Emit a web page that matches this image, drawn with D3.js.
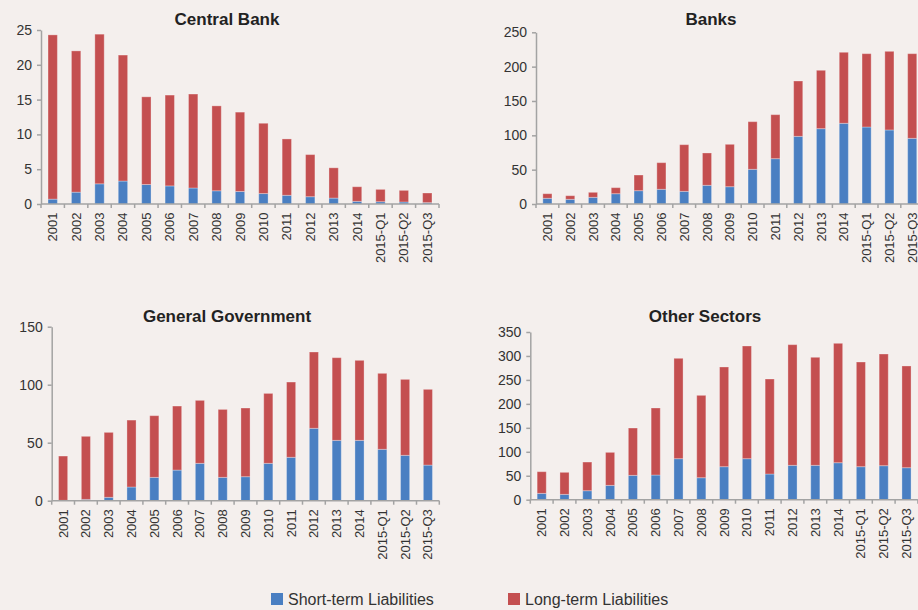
<!DOCTYPE html>
<html>
<head>
<meta charset="utf-8">
<script src="https://cdn.jsdelivr.net/npm/d3@7"></script>
<style>
  body { margin: 0; background: #f4efed; }
  svg { display: block; font-family: Arial, "Liberation Sans", sans-serif; }
  .axis path, .axis line { stroke: #a3a3a3; stroke-width: 1.5; }
</style>
</head>
<body>
<svg id="chart" width="918" height="610"></svg>
<script>
// categories shared by all four panels
var periods = ["2001","2002","2003","2004","2005","2006","2007","2008","2009","2010","2011","2012","2013","2014","2015-Q1","2015-Q2","2015-Q3"];

// Central Bank: short-term and long-term
var cbShort = [0.7, 1.7, 2.9, 3.3, 2.8, 2.6, 2.3, 1.9, 1.8, 1.5, 1.25, 1.05, 0.85, 0.38, 0.33, 0.29, 0.2];
var cbLong  = [23.6, 20.3, 21.5, 18.1, 12.6, 13.05, 13.5, 12.2, 11.4, 10.1, 8.1, 6.05, 4.35, 2.1, 1.77, 1.67, 1.38];

// Banks
var bankShort = [8.3, 6.8, 9.7, 15.0, 19.4, 21.4, 18.4, 27.2, 25.2, 50.5, 66.0, 98.5, 109.7, 117.5, 112.1, 107.8, 95.6];
var bankLong  = [6.7, 5.3, 7.3, 8.8, 22.8, 38.8, 68.0, 47.1, 61.7, 69.4, 64.1, 80.6, 85.0, 103.4, 106.8, 114.5, 123.3];

// General Government
var govShort = [0.3, 1.1, 2.9, 11.8, 20.1, 26.4, 32.2, 20.1, 20.7, 32.2, 37.4, 62.4, 52.0, 52.0, 44.3, 39.1, 30.7];
var govLong  = [38.2, 54.4, 56.0, 57.7, 53.2, 55.2, 54.3, 58.6, 59.2, 60.3, 64.9, 65.8, 71.3, 69.0, 65.5, 65.5, 65.3];

// Other Sectors
var othShort = [13.2, 11.1, 18.8, 29.9, 50.8, 51.5, 85.6, 45.9, 68.9, 85.6, 53.6, 71.7, 71.7, 77.2, 68.9, 71.0, 66.8];
var othLong  = [45.3, 46.0, 59.8, 68.9, 98.8, 139.9, 209.5, 171.9, 208.1, 235.2, 198.3, 251.9, 225.5, 249.2, 218.5, 233.1, 212.3];

// y tick values per panel
var cbTicks = [0, 5, 10, 15, 20, 25];
var bankTicks = [0, 50, 100, 150, 200, 250];
var govTicks = [0, 50, 100, 150];
var othTicks = [0, 50, 100, 150, 200, 250, 300, 350];

var seriesNames = ["Short-term Liabilities", "Long-term Liabilities"];
var colors = ["#4a7fc2", "#c44f50"];

var svg = d3.select("#chart");

// panel layout: left/right of x axis, zero line and top of y axis
var panels = [
  {title: "Central Bank", shortV: cbShort, longV: cbLong, ticks: cbTicks, x0: 41, x1: 439, y0: 204, y1: 30, tx: 227, ty: 25},
  {title: "Banks", shortV: bankShort, longV: bankLong, ticks: bankTicks, x0: 536, x1: 923.6, y0: 204, y1: 32.3, tx: 711, ty: 25},
  {title: "General Government", shortV: govShort, longV: govLong, ticks: govTicks, x0: 51.7, x1: 439.3, y0: 500.7, y1: 326.7, tx: 227, ty: 321.5},
  {title: "Other Sectors", shortV: othShort, longV: othLong, ticks: othTicks, x0: 530.3, x1: 917.9, y0: 499.7, y1: 332, tx: 705, ty: 321.5}
];

panels.forEach(function(p) {
  var x = d3.scaleBand()
    .domain(periods)
    .range([p.x0, p.x1])
    .paddingInner(0.6)
    .paddingOuter(0.3);

  var y = d3.scaleLinear()
    .domain([0, d3.max(p.ticks)])
    .range([p.y0, p.y1]);

  var g = svg.append("g");

  // stack short + long
  var rows = periods.map(function(d, i) { return {period: d, s: p.shortV[i], l: p.longV[i]}; });
  var stacked = d3.stack().keys(["s", "l"])(rows);

  g.append("g")
    .selectAll("g")
    .data(stacked)
    .enter().append("g")
    .attr("fill", function(d, i) { return colors[i]; })
    .selectAll("rect")
    .data(function(d) { return d; })
    .enter().append("rect")
    .attr("x", function(d) { return x(d.data.period); })
    .attr("y", function(d) { return y(d[1]); })
    .attr("width", x.bandwidth())
    .attr("height", function(d) { return y(d[0]) - y(d[1]); })
    .attr("stroke", "rgba(255,255,255,0.3)")
    .attr("stroke-width", 1);

  // y axis
  var yAxis = g.append("g")
    .attr("class", "axis")
    .attr("transform", "translate(" + p.x0 + ",0)")
    .call(d3.axisLeft(y).tickValues(p.ticks).tickSize(4).tickSizeOuter(0));
  yAxis.selectAll("text")
    .attr("x", -9)
    .attr("font-size", 14)
    .attr("fill", "#333")
    .attr("font-family", "Arial, 'Liberation Sans', sans-serif");

  // x axis: ticks on band boundaries
  var bounds = periods.map(function(d) { return x(d) - x.step() * x.paddingInner() / 2; });
  bounds.push(p.x1);
  g.append("line")
    .attr("x1", p.x0).attr("x2", p.x1)
    .attr("y1", p.y0).attr("y2", p.y0)
    .attr("stroke", "#a3a3a3").attr("stroke-width", 1.5);
  g.selectAll(".xtick")
    .data(bounds)
    .enter().append("line")
    .attr("x1", function(d) { return d; }).attr("x2", function(d) { return d; })
    .attr("y1", p.y0).attr("y2", p.y0 + 4)
    .attr("stroke", "#a3a3a3").attr("stroke-width", 1.5);

  g.selectAll(".xlabel")
    .data(periods)
    .enter().append("text")
    .attr("transform", function(d) { return "translate(" + (x(d) + x.bandwidth() / 2 + 4.5) + "," + (p.y0 + 8.5) + ") rotate(-90)"; })
    .attr("text-anchor", "end")
    .attr("font-size", 13)
    .attr("fill", "#333")
    .text(function(d) { return d; });

  // panel title
  g.append("text")
    .attr("x", p.tx)
    .attr("y", p.ty)
    .attr("text-anchor", "middle")
    .attr("font-size", 17)
    .attr("font-weight", "bold")
    .attr("fill", "#222")
    .text(p.title);
});

// legend
var legendX = [271, 508];
var legend = svg.append("g")
  .selectAll("g")
  .data(seriesNames)
  .enter().append("g")
  .attr("transform", function(d, i) { return "translate(" + legendX[i] + ",593)"; });

legend.append("rect")
  .attr("width", 12)
  .attr("height", 12)
  .attr("fill", function(d, i) { return colors[i]; });

legend.append("text")
  .attr("x", 17)
  .attr("y", 12)
  .attr("font-size", 16)
  .attr("fill", "#333")
  .text(function(d) { return d; });
</script>
</body>
</html>
